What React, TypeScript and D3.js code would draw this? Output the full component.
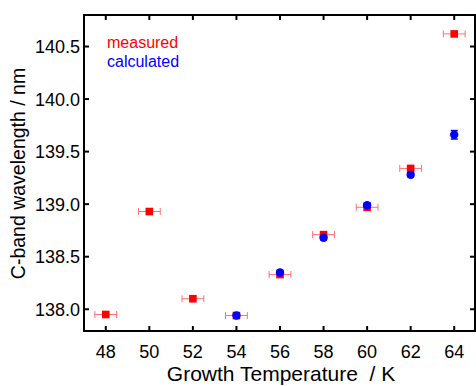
import React from "react";
import * as d3 from "d3";

const temps = [48, 50, 52, 54, 56, 58, 60, 62, 64];
const measured = [137.95, 138.93, 138.1, 137.94, 138.33, 138.71, 138.97, 139.34, 140.62];
const measuredXErr = [0.5, 0.5, 0.5, 0.5, 0.5, 0.5, 0.5, 0.5, 0.5];
const calcTemps = [54, 56, 58, 60, 62, 64];
const calculated = [137.94, 138.35, 138.68, 138.99, 139.28, 139.66];
const calcYErr = [0.02, 0.02, 0.02, 0.02, 0.02, 0.04];
const xTicks = [48, 50, 52, 54, 56, 58, 60, 62, 64];
const yTicks = [138.0, 138.5, 139.0, 139.5, 140.0, 140.5];

const W = 476;
const H = 386;
const left = 84;
const right = 475;
const top = 15;
const bottom = 331;

export default function App() {
  const x = d3.scaleLinear().domain([47, 65]).range([84, 476]);
  const y = d3.scaleLinear().domain([137.793, 140.8]).range([bottom, top]);
  const font = "Liberation Sans, Arial, sans-serif";
  const tl = 5;
  return (
    <svg width={W} height={H} style={{ position: "absolute", left: 0, top: 0, background: "#fff" }} fontFamily={font}>
      {xTicks.map((t) => (
        <g key={"x" + t}>
          <line x1={x(t)} x2={x(t)} y1={bottom} y2={bottom - tl} stroke="#000" strokeWidth={2} />
          <line x1={x(t)} x2={x(t)} y1={top} y2={top + tl} stroke="#000" strokeWidth={2} />
          <text x={x(t)} y={bottom + 27} fontSize={18} textAnchor="middle" fill="#000">{t}</text>
        </g>
      ))}
      {yTicks.map((t) => (
        <g key={"y" + t}>
          <line x1={left} x2={left + tl} y1={y(t)} y2={y(t)} stroke="#000" strokeWidth={2} />
          <line x1={right} x2={right - tl} y1={y(t)} y2={y(t)} stroke="#000" strokeWidth={2} />
          <text x={left - 4} y={y(t) + 6.5} fontSize={18} textAnchor="end" fill="#000">{t.toFixed(1)}</text>
        </g>
      ))}
      <rect x={left} y={top} width={right - left} height={bottom - top} fill="none" stroke="#000" strokeWidth={2} />
      {temps.map((t, i) => {
        const yy = y(measured[i]);
        const x0 = x(t - measuredXErr[i]);
        const x1 = x(t + measuredXErr[i]);
        return (
          <g key={"me" + i} stroke="#ff7070" strokeWidth={1}>
            <line x1={x0} x2={x1} y1={yy} y2={yy} />
            <line x1={x0} x2={x0} y1={yy - 3.5} y2={yy + 3.5} />
            <line x1={x1} x2={x1} y1={yy - 3.5} y2={yy + 3.5} />
          </g>
        );
      })}
      {temps.map((t, i) => (
        <rect key={"m" + i} x={x(t) - 3.8} y={y(measured[i]) - 3.8} width={7.6} height={7.6} fill="#ff0000" />
      ))}
      {calcTemps.map((t, i) => {
        const y0 = y(calculated[i] + calcYErr[i]);
        const y1 = y(calculated[i] - calcYErr[i]);
        return (
          <g key={"ce" + i} stroke="#0000ff" strokeWidth={1.5}>
            <line x1={x(t)} x2={x(t)} y1={y0} y2={y1} />
            <line x1={x(t) - 3.5} x2={x(t) + 3.5} y1={y0} y2={y0} />
            <line x1={x(t) - 3.5} x2={x(t) + 3.5} y1={y1} y2={y1} />
          </g>
        );
      })}
      {calcTemps.map((t, i) => (
        <circle key={"c" + i} cx={x(t)} cy={y(calculated[i])} r={4.2} fill="#0000ff" />
      ))}
      <text x={107} y={48} fontSize={16} fill="#ff0000">measured</text>
      <text x={107} y={67} fontSize={16} fill="#0000ff">calculated</text>
      <text x={281} y={381} fontSize={21} textAnchor="middle" fill="#000" style={{ whiteSpace: "pre" }}>{"Growth Temperature  / K"}</text>
      <text transform={`translate(25,173.5) rotate(-90)`} fontSize={19.5} textAnchor="middle" fill="#000">C-band wavelength / nm</text>
    </svg>
  );
}
